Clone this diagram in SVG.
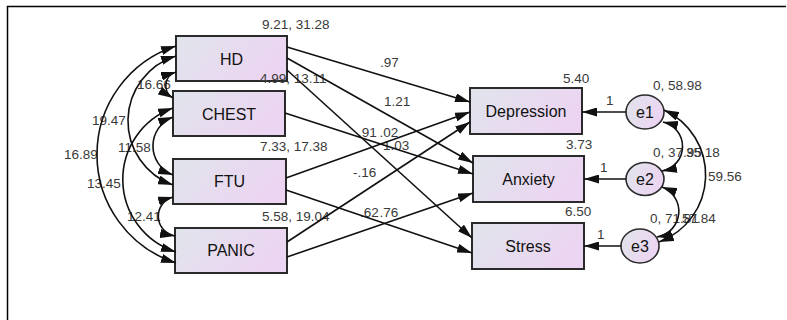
<svg xmlns="http://www.w3.org/2000/svg" width="787" height="320" viewBox="0 0 787 320">
<defs>
<linearGradient id="fill" x1="0" y1="0" x2="1" y2="0.35">
<stop offset="0" stop-color="#e0e4eb"/>
<stop offset="1" stop-color="#ecd5f2"/>
</linearGradient>
<marker id="ah" viewBox="0 0 15 9" refX="15" refY="4.5" markerWidth="15" markerHeight="9" markerUnits="userSpaceOnUse" orient="auto-start-reverse">
<path d="M0,0 L15,4.5 L0,9 Z" fill="#111"/>
</marker>
<style>
.box{fill:url(#fill);stroke:#2a2a2a;stroke-width:2}
.lat{fill:url(#fill);stroke:#2a2a2a;stroke-width:1.6}
.name{font-family:"Liberation Sans",Arial,sans-serif;font-size:16px;fill:#111;text-anchor:middle}
.num{font-family:"Liberation Sans",Arial,sans-serif;font-size:13.5px;fill:#3a3a3a}
.ln{stroke:#111;stroke-width:1.6;fill:none;marker-end:url(#ah)}
.arc{stroke:#111;stroke-width:1.6;fill:none;marker-start:url(#ah);marker-end:url(#ah)}
</style>
</defs>
<rect x="0" y="0" width="787" height="320" fill="#fff"/>
<path d="M7.5,320 V6.5 H786" fill="none" stroke="#000" stroke-width="1.5"/>

<g id="HD"><rect class="box" x="176" y="36" width="111" height="45"/><text class="name" x="231.5" y="64.5">HD</text></g>
<g id="CHEST"><rect class="box" x="173" y="91" width="112" height="45"/><text class="name" x="229" y="119.5">CHEST</text></g>
<g id="FTU"><rect class="box" x="173" y="159" width="113" height="45"/><text class="name" x="229.5" y="187">FTU</text></g>
<g id="PANIC"><rect class="box" x="175" y="228" width="112" height="45"/><text class="name" x="231" y="256">PANIC</text></g>
<g id="Depression"><rect class="box" x="470" y="88" width="112" height="46"/><text class="name" x="526" y="116.5">Depression</text></g>
<g id="Anxiety"><rect class="box" x="473" y="156" width="111" height="46"/><text class="name" x="528.5" y="184.5">Anxiety</text></g>
<g id="Stress"><rect class="box" x="472" y="223" width="112" height="46"/><text class="name" x="528" y="251.5">Stress</text></g>
<g id="e1"><ellipse class="lat" cx="645" cy="112" rx="19" ry="17"/><text class="name" x="645" y="117.5">e1</text></g>
<g id="e2"><ellipse class="lat" cx="645" cy="179" rx="19" ry="16.5"/><text class="name" x="645" y="184.5">e2</text></g>
<g id="e3"><ellipse class="lat" cx="640" cy="246" rx="19" ry="17"/><text class="name" x="640" y="251.5">e3</text></g>

<g id="labels">
<text class="num" x="262" y="29">9.21, 31.28</text>
<text class="num" x="260" y="83">4.99, 13.11</text>
<text class="num" x="260" y="151">7.33, 17.38</text>
<text class="num" x="262" y="221">5.58, 19.04</text>
<text class="num" x="380" y="67">.97</text>
<text class="num" x="384" y="106">1.21</text>
<text class="num" x="358" y="137">.91</text>
<text class="num" x="379.5" y="137">.02</text>
<text class="num" x="383" y="150">1.03</text>
<text class="num" x="353" y="177">-.16</text>
<text class="num" x="360" y="217">.62</text>
<text class="num" x="379.5" y="217">.76</text>
<text class="num" x="563" y="83">5.40</text>
<text class="num" x="653" y="90">0, 58.98</text>
<text class="num" x="566" y="149">3.73</text>
<text class="num" x="653" y="157">0, 37.95</text>
<text class="num" x="686" y="157">35.18</text>
<text class="num" x="708" y="181">59.56</text>
<text class="num" x="565" y="216">6.50</text>
<text class="num" x="650" y="223">0, 71.81</text>
<text class="num" x="682" y="223">57.84</text>
<text class="num" x="606" y="105">1</text>
<text class="num" x="600" y="172">1</text>
<text class="num" x="597" y="239">1</text>
<text class="num" x="137" y="89">16.66</text>
<text class="num" x="92" y="125">19.47</text>
<text class="num" x="64" y="159">16.89</text>
<text class="num" x="118" y="152">11.58</text>
<text class="num" x="87" y="188">13.45</text>
<text class="num" x="127" y="221">12.41</text>
</g>

<g id="connectors">
<line class="ln" x1="287" y1="47" x2="470" y2="102"/>
<line class="ln" x1="287" y1="58" x2="473" y2="163"/>
<line class="ln" x1="287" y1="70" x2="472" y2="238"/>
<line class="ln" x1="285" y1="113" x2="473" y2="174"/>
<line class="ln" x1="286" y1="178" x2="470" y2="112"/>
<line class="ln" x1="286" y1="190" x2="472" y2="253"/>
<line class="ln" x1="287" y1="242" x2="470" y2="122"/>
<line class="ln" x1="287" y1="257" x2="473" y2="193"/>
<line class="ln" x1="626" y1="112" x2="582" y2="112"/>
<line class="ln" x1="626" y1="179" x2="584" y2="179"/>
<line class="ln" x1="621" y1="246" x2="584" y2="246"/>
<path class="arc" d="M176,46 A114,114 0 0 0 176,263"/>
<path class="arc" d="M176,56 A68,68 0 0 0 173,185"/>
<path class="arc" d="M176,72 A14.2,14.2 0 0 0 173,98"/>
<path class="arc" d="M173,108 A76,76 0 0 0 176,252"/>
<path class="arc" d="M173,117 A31,31 0 0 0 173,175"/>
<path class="arc" d="M173,197 A20,20 0 0 0 175,236"/>
<path class="arc" d="M664,110 A71.5,71.5 0 0 1 659,242"/>
<path class="arc" d="M663,122 A25,25 0 0 1 662,171"/>
<path class="arc" d="M662,187 A26,26 0 0 1 657,237"/>
</g>
</svg>
